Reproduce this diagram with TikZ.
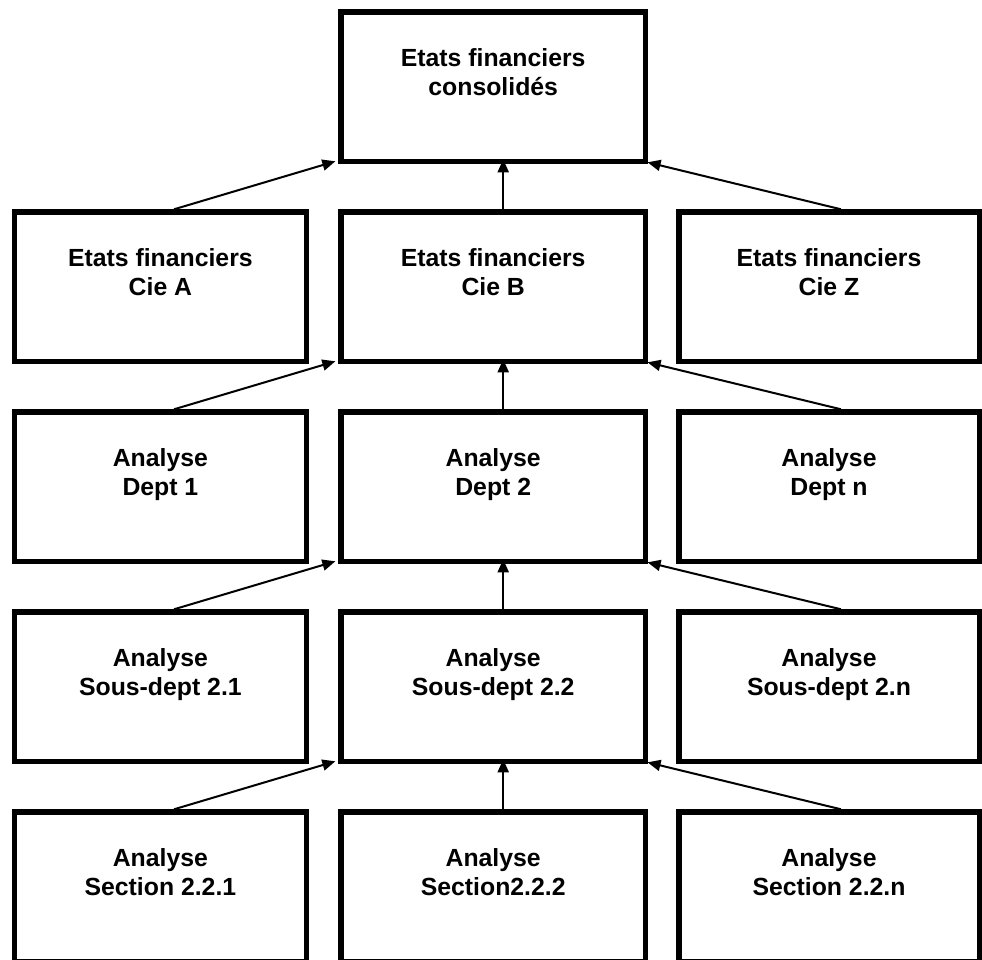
\documentclass[tikz,border=0pt]{standalone}
\usepackage{fontspec}
\setmainfont{Liberation Sans}
\usetikzlibrary{arrows.meta}
\tikzset{
  box/.style={draw=black, line width=5.5pt, rectangle, inner sep=0pt, minimum height=149.5pt},
  wL/.style={minimum width=292.3pt},
  wM/.style={minimum width=304.2pt},
  wR/.style={minimum width=300.5pt},
  lbl/.style={anchor=north, inner sep=0pt, align=center, font=\fontsize{24.8pt}{29pt}\selectfont\bfseries},
  arr/.style={draw=black, line width=2pt, -{Triangle[length=13pt,width=11pt]}}
}
\begin{document}
\begin{tikzpicture}[x=1pt,y=-1pt]
\useasboundingbox (0,0) rectangle (982,959);
% row 1
\node[box,wM] (top) at (493.2,86.8) {};
% row 2
\node[box,wL] (cA) at (160.4,286.8) {};
\node[box,wM] (cB) at (493.2,286.8) {};
\node[box,wR] (cZ) at (829,286.8) {};
% row 3
\node[box,wL] (d1) at (160.4,486.8) {};
\node[box,wM] (d2) at (493.2,486.8) {};
\node[box,wR] (dn) at (829,486.8) {};
% row 4
\node[box,wL] (s1) at (160.4,686.8) {};
\node[box,wM] (s2) at (493.2,686.8) {};
\node[box,wR] (sn) at (829,686.8) {};
% row 5
\node[box,wL] (e1) at (160.4,886.8) {};
\node[box,wM] (e2) at (493.2,886.8) {};
\node[box,wR] (en) at (829,886.8) {};
% labels
\node[lbl] (ttop) at ([yshift=-39pt]top.north) {Etats financiers\\consolidés};
\node[lbl] (tA) at ([yshift=-39pt]cA.north) {Etats financiers\\Cie A};
\node[lbl] (tB) at ([yshift=-39pt]cB.north) {Etats financiers\\Cie B};
\node[lbl] (tZ) at ([yshift=-39pt]cZ.north) {Etats financiers\\Cie Z};
\node[lbl] (t1) at ([yshift=-39pt]d1.north) {Analyse\\Dept 1};
\node[lbl] (t2) at ([yshift=-39pt]d2.north) {Analyse\\Dept 2};
\node[lbl] (tn) at ([yshift=-39pt]dn.north) {Analyse\\Dept n};
\node[lbl] (u1) at ([yshift=-39pt]s1.north) {Analyse\\Sous-dept 2.1};
\node[lbl] (u2) at ([yshift=-39pt]s2.north) {Analyse\\Sous-dept 2.2};
\node[lbl] (un) at ([yshift=-39pt]sn.north) {Analyse\\Sous-dept 2.n};
\node[lbl] (v1) at ([yshift=-39pt]e1.north) {Analyse\\Section 2.2.1};
\node[lbl] (v2) at ([yshift=-39pt]e2.north) {Analyse\\Section2.2.2};
\node[lbl] (vn) at ([yshift=-39pt]en.north) {Analyse\\Section 2.2.n};
% arrows
\foreach \l/\m/\r/\t in {cA/cB/cZ/top, d1/d2/dn/cB, s1/s2/sn/d2, e1/e2/en/s2}{
  \draw[arr] ([xshift=13.6pt]\l.north) -- ([xshift=-3pt,yshift=3pt]\t.south west);
  \draw[arr] ([xshift=10pt]\m.north) -- ([xshift=10pt,yshift=5pt]\t.south);
  \draw[arr] ([xshift=12pt]\r.north) -- ([xshift=-0.5pt,yshift=2pt]\t.south east);
}
\end{tikzpicture}
\end{document}
